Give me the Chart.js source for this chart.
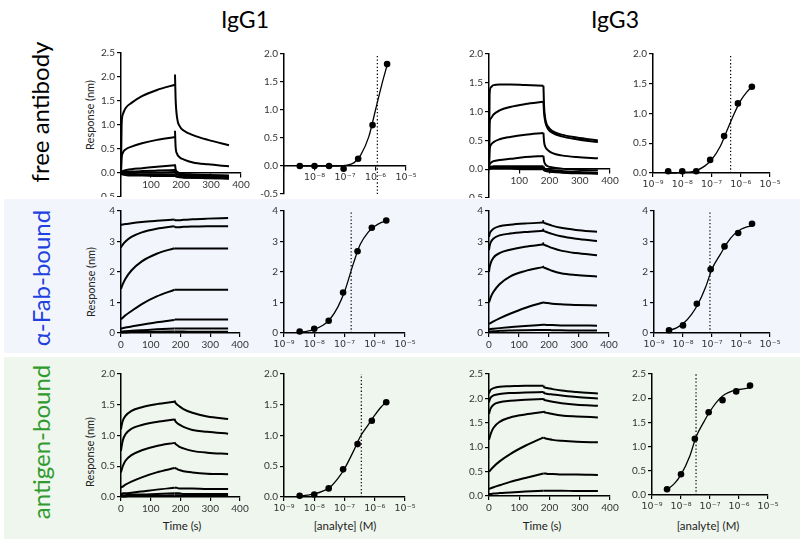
<!DOCTYPE html>
<html>
<head>
<meta charset="utf-8">
<script src="https://cdn.jsdelivr.net/npm/chart.js@4.4.1/dist/chart.umd.min.js"></script>
<style>
  body { margin:0; background:#fff; width:800px; height:543px; position:relative; overflow:hidden; font-family: Lato, "Open Sans", sans-serif; }
  .band { position:absolute; left:4px; right:0; }
  .lbl { position:absolute; white-space:nowrap; transform: translate(-50%,-50%); line-height:1; }
  .rot { transform: translate(-50%,-50%) rotate(-90deg); }
  canvas { position:absolute; }
</style>
</head>
<body>
<div class="band" style="top:199px;height:154px;background:#f2f6fc"></div>
<div class="band" style="top:357px;height:182px;background:#eff6ee"></div>

<div class="lbl" style="left:245px;top:19px;font-size:23px">IgG1</div>
<div class="lbl" style="left:615px;top:19px;font-size:23px">IgG3</div>

<div class="lbl rot" style="left:40px;top:112px;font-size:24px;color:#000">free antibody</div>
<div class="lbl rot" style="left:41px;top:278px;font-size:24px;color:#2040e0">α-Fab-bound</div>
<div class="lbl rot" style="left:41px;top:442px;font-size:24px;color:#2f9b2f">antigen-bound</div>

<div class="lbl rot" style="left:89px;top:115px;font-size:11px;color:#222">Response (nm)</div>
<div class="lbl rot" style="left:90px;top:282px;font-size:11px;color:#222">Response (nm)</div>
<div class="lbl rot" style="left:89px;top:452px;font-size:11px;color:#222">Response (nm)</div>

<div class="lbl" style="left:182px;top:526px;font-size:11.5px;color:#222">Time (s)</div>
<div class="lbl" style="left:542px;top:526px;font-size:11.5px;color:#222">Time (s)</div>
<div class="lbl" style="left:345px;top:526px;font-size:11.5px;color:#222">[analyte] (M)</div>
<div class="lbl" style="left:708px;top:526px;font-size:11.5px;color:#222">[analyte] (M)</div>

<script>
// sensorgram time points (s), association and dissociation phases
const tAssoc = [0, 2, 6, 15, 35, 70, 120, 180];
const tDiss = [180, 182, 187, 195, 210, 240, 290, 360];

// IgG1 free antibody
const igg1FreeAssoc = [
  [0, 1.0, 1.22, 1.35, 1.46, 1.6, 1.73, 1.84],
  [0, 0.3, 0.42, 0.49, 0.55, 0.62, 0.69, 0.75],
  [0, 0.02, 0.04, 0.06, 0.08, 0.1, 0.13, 0.16],
  [0, 0.0, 0.01, 0.02, 0.03, 0.04, 0.05, 0.06],
  [0, -0.01, -0.01, 0, 0, 0.01, 0.01, 0.02],
  [0, -0.02, -0.03, -0.03, -0.03, -0.03, -0.03, -0.03],
  [0, -0.01, -0.02, -0.04, -0.05, -0.05, -0.06, -0.06]
];
const igg1FreeDiss = [
  [2.05, 1.55, 1.15, 0.98, 0.88, 0.79, 0.69, 0.58],
  [0.88, 0.55, 0.4, 0.33, 0.28, 0.22, 0.18, 0.14],
  [0.18, 0.08, 0.03, 0.0, -0.02, -0.03, -0.04, -0.05],
  [0.07, 0.02, -0.01, -0.03, -0.04, -0.05, -0.06, -0.07],
  [0.03, 0.0, -0.03, -0.05, -0.06, -0.07, -0.08, -0.09],
  [-0.03, -0.05, -0.07, -0.08, -0.09, -0.1, -0.1, -0.11],
  [-0.06, -0.07, -0.08, -0.09, -0.1, -0.1, -0.11, -0.12]
];

// IgG3 free antibody
const igg3FreeAssoc = [
  [0, 1.3, 1.42, 1.46, 1.47, 1.47, 1.46, 1.45],
  [0, 0.8, 0.88, 0.95, 1.02, 1.08, 1.13, 1.17],
  [0, 0.33, 0.42, 0.47, 0.52, 0.56, 0.6, 0.63],
  [0, 0.08, 0.11, 0.14, 0.16, 0.18, 0.21, 0.23],
  [0, 0.03, 0.04, 0.05, 0.05, 0.05, 0.05, 0.05],
  [0, 0.02, 0.03, 0.03, 0.03, 0.03, 0.03, 0.03],
  [0, 0.0, 0.01, 0.01, 0.01, 0.01, 0.0, 0.0]
];
const igg3FreeDiss = [
  [1.45, 1.1, 0.85, 0.74, 0.66, 0.6, 0.55, 0.5],
  [1.17, 0.98, 0.8, 0.7, 0.63, 0.57, 0.52, 0.47],
  [0.63, 0.48, 0.38, 0.33, 0.28, 0.24, 0.21, 0.19],
  [0.23, 0.14, 0.08, 0.05, 0.03, 0.01, -0.01, -0.02],
  [0.05, 0.02, 0.0, -0.01, -0.02, -0.03, -0.05, -0.06],
  [0.03, 0.0, -0.02, -0.03, -0.04, -0.05, -0.06, -0.07],
  [0.0, -0.02, -0.03, -0.04, -0.05, -0.06, -0.07, -0.08]
];

// IgG1 alpha-Fab-bound
const igg1FabAssoc = [
  [3.55, 3.55, 3.56, 3.57, 3.6, 3.64, 3.68, 3.72],
  [2.8, 2.84, 2.9, 3.0, 3.15, 3.3, 3.42, 3.5],
  [1.45, 1.5, 1.6, 1.78, 2.05, 2.35, 2.6, 2.78],
  [0.45, 0.47, 0.5, 0.58, 0.72, 0.95, 1.2, 1.42],
  [0.15, 0.15, 0.16, 0.18, 0.21, 0.27, 0.35, 0.43],
  [0.05, 0.05, 0.05, 0.06, 0.07, 0.09, 0.12, 0.15],
  [0.02, 0.02, 0.02, 0.02, 0.03, 0.03, 0.04, 0.05]
];
const igg1FabDiss = [
  [3.72, 3.7, 3.7, 3.7, 3.71, 3.73, 3.75, 3.77],
  [3.5, 3.47, 3.47, 3.47, 3.48, 3.49, 3.5, 3.5],
  [2.78, 2.77, 2.77, 2.77, 2.77, 2.77, 2.77, 2.77],
  [1.42, 1.42, 1.42, 1.42, 1.42, 1.42, 1.42, 1.42],
  [0.43, 0.44, 0.44, 0.44, 0.44, 0.44, 0.44, 0.44],
  [0.15, 0.15, 0.15, 0.15, 0.15, 0.15, 0.15, 0.15],
  [0.05, 0.05, 0.05, 0.05, 0.05, 0.04, 0.04, 0.04]
];

// IgG3 alpha-Fab-bound
const igg3FabAssoc = [
  [3.15, 3.25, 3.33, 3.42, 3.5, 3.55, 3.59, 3.62],
  [2.72, 2.85, 2.98, 3.1, 3.2, 3.26, 3.31, 3.35],
  [2.0, 2.15, 2.3, 2.47, 2.62, 2.73, 2.83, 2.9],
  [1.0, 1.06, 1.18, 1.35, 1.6, 1.85, 2.03, 2.16],
  [0.3, 0.31, 0.33, 0.38, 0.48, 0.63, 0.82, 1.0],
  [0.12, 0.12, 0.13, 0.14, 0.16, 0.19, 0.23, 0.27],
  [0.05, 0.05, 0.05, 0.06, 0.07, 0.08, 0.09, 0.1]
];
const igg3FabDiss = [
  [3.7, 3.62, 3.6, 3.57, 3.52, 3.45, 3.38, 3.32],
  [3.42, 3.35, 3.33, 3.3, 3.25, 3.17, 3.09, 3.02],
  [2.97, 2.9, 2.88, 2.85, 2.79, 2.7, 2.62, 2.55],
  [2.2, 2.15, 2.13, 2.1, 2.04, 1.96, 1.9, 1.85],
  [1.0, 1.0, 0.99, 0.98, 0.96, 0.94, 0.92, 0.9],
  [0.27, 0.27, 0.27, 0.26, 0.26, 0.25, 0.25, 0.24],
  [0.1, 0.1, 0.1, 0.1, 0.09, 0.09, 0.08, 0.08]
];

// IgG1 antigen-bound
const igg1AgAssoc = [
  [1.1, 1.16, 1.24, 1.32, 1.4, 1.46, 1.51, 1.55],
  [0.75, 0.82, 0.92, 1.02, 1.11, 1.17, 1.22, 1.26],
  [0.4, 0.44, 0.5, 0.59, 0.68, 0.76, 0.83, 0.88],
  [0.15, 0.16, 0.17, 0.2, 0.25, 0.32, 0.4, 0.47],
  [0.05, 0.05, 0.06, 0.06, 0.07, 0.09, 0.12, 0.15],
  [0.03, 0.03, 0.03, 0.03, 0.04, 0.04, 0.05, 0.06],
  [0.01, 0.01, 0.01, 0.01, 0.02, 0.02, 0.02, 0.03]
];
const igg1AgDiss = [
  [1.57, 1.54, 1.51, 1.48, 1.43, 1.37, 1.31, 1.27],
  [1.27, 1.24, 1.21, 1.18, 1.14, 1.09, 1.06, 1.03],
  [0.89, 0.87, 0.85, 0.82, 0.79, 0.75, 0.72, 0.7],
  [0.48, 0.47, 0.46, 0.44, 0.42, 0.4, 0.38, 0.37],
  [0.15, 0.15, 0.15, 0.14, 0.14, 0.14, 0.13, 0.13],
  [0.06, 0.06, 0.06, 0.06, 0.05, 0.05, 0.05, 0.05],
  [0.03, 0.03, 0.03, 0.03, 0.03, 0.02, 0.02, 0.02]
];

// IgG3 antigen-bound
const igg3AgAssoc = [
  [2.1, 2.14, 2.18, 2.21, 2.24, 2.25, 2.26, 2.26],
  [1.92, 1.97, 2.02, 2.06, 2.09, 2.11, 2.12, 2.13],
  [1.68, 1.73, 1.8, 1.87, 1.92, 1.95, 1.97, 1.99],
  [1.15, 1.2, 1.28, 1.4, 1.52, 1.61, 1.67, 1.72],
  [0.5, 0.51, 0.54, 0.6, 0.71, 0.86, 1.03, 1.2],
  [0.15, 0.15, 0.16, 0.18, 0.22, 0.29, 0.37, 0.46],
  [0.04, 0.04, 0.04, 0.05, 0.06, 0.07, 0.09, 0.11]
];
const igg3AgDiss = [
  [2.26, 2.23, 2.22, 2.21, 2.19, 2.16, 2.13, 2.1],
  [2.14, 2.11, 2.1, 2.09, 2.08, 2.06, 2.03, 2.0],
  [2.0, 1.97, 1.96, 1.95, 1.93, 1.9, 1.87, 1.85],
  [1.74, 1.72, 1.71, 1.7, 1.68, 1.65, 1.63, 1.61],
  [1.2, 1.19, 1.18, 1.17, 1.15, 1.13, 1.11, 1.1],
  [0.46, 0.46, 0.46, 0.45, 0.45, 0.44, 0.44, 0.43],
  [0.11, 0.11, 0.11, 0.11, 0.11, 0.11, 0.1, 0.1]
];

// steady-state responses (nm) vs analyte concentration (M)
const conc = [3.3e-9, 1e-8, 3e-8, 9e-8, 2.7e-7, 8e-7, 2.4e-6];
const igg1FreeResp = [0, 0, 0, -0.05, 0.13, 0.73, 1.82];
const igg3FreeResp = [0.03, 0.03, 0.03, 0.22, 0.62, 1.17, 1.45];
const igg1FabResp = [0.05, 0.14, 0.40, 1.33, 2.68, 3.45, 3.69];
const igg3FabResp = [0.09, 0.25, 0.96, 2.09, 2.84, 3.28, 3.58];
const igg1AgResp = [0.02, 0.04, 0.14, 0.45, 0.86, 1.24, 1.54];
const igg3AgResp = [0.12, 0.43, 1.16, 1.71, 1.96, 2.14, 2.26];

// fitted curves
const fitConc = [3.3e-9, 6e-9, 1e-8, 2e-8, 3.3e-8, 6e-8, 1e-7, 2e-7, 3.3e-7, 6e-7, 1e-6, 1.6e-6, 2.4e-6];
const igg1FreeFit = [0, 0, 0, 0, 0, 0, 0.01, 0.06, 0.2, 0.52, 1.0, 1.45, 1.8];
const igg3FreeFit = [0, 0, 0.01, 0.02, 0.05, 0.12, 0.22, 0.45, 0.7, 1.0, 1.22, 1.36, 1.45];
const igg1FabFit = [0.02, 0.06, 0.12, 0.26, 0.45, 0.85, 1.35, 2.3, 2.9, 3.3, 3.5, 3.62, 3.68];
const igg3FabFit = [0.08, 0.17, 0.3, 0.62, 0.95, 1.5, 2.1, 2.6, 2.95, 3.25, 3.4, 3.48, 3.52];
const igg1AgFit = [0.015, 0.03, 0.05, 0.1, 0.16, 0.3, 0.46, 0.75, 0.98, 1.17, 1.33, 1.46, 1.54];
const igg3AgFit = [0.11, 0.24, 0.42, 0.8, 1.2, 1.5, 1.73, 1.97, 2.08, 2.15, 2.18, 2.2, 2.21];

// KD markers (dotted lines)
const igg1FreeKD = 1.15e-6, igg3FreeKD = 4.5e-7;
const igg1FabKD = 1.66e-7, igg3FabKD = 8.5e-8;
const igg1AgKD = 3.6e-7, igg3AgKD = 3.3e-8;

const logTicks = [1e-9, 1e-8, 1e-7, 1e-6, 1e-5];
const logLabels = ['10⁻⁹', '10⁻⁸', '10⁻⁷', '10⁻⁶', '10⁻⁵'];

// canvas margins around plot area
const ML = 36, MR = 18, MT = 8, MB = 22;
const tickFont = { family: 'Lato', size: 10 };
const logFont = { family: '"DejaVu Sans", Lato', size: 9.5 };

function addCanvas(r) {
  const c = document.createElement('canvas');
  c.width = r[2] - r[0] + ML + MR;
  c.height = r[3] - r[1] + MT + MB;
  c.style.left = (r[0] - ML) + 'px';
  c.style.top = (r[1] - MT) + 'px';
  document.body.appendChild(c);
  return c;
}

function yAxis(min, max, step, dec) {
  return {
    type: 'linear', min: min, max: max,
    grid: { drawOnChartArea: false, tickLength: 4, color: '#000', lineWidth: 1.2 },
    border: { color: '#000', width: 1.5 },
    ticks: { stepSize: step, color: '#333', font: tickFont, padding: 2, callback: v => v.toFixed(dec) },
    afterFit: s => { s.width = ML; s.paddingTop = 0; s.paddingBottom = 0; }
  };
}

function xAxis(type, atZero) {
  const log = type === 'log';
  return {
    type: log ? 'logarithmic' : 'linear',
    min: log ? 1e-9 : 0, max: log ? 1e-5 : 400,
    position: atZero ? { y: 0 } : 'bottom',
    grid: { drawOnChartArea: false, tickLength: 4, color: '#000', lineWidth: 1.2 },
    border: { color: '#000', width: 1.5 },
    afterBuildTicks: log ? (s => { s.ticks = logTicks.map(v => ({ value: v })); }) : undefined,
    ticks: {
      stepSize: 100, autoSkip: false, maxRotation: 0, color: '#333',
      font: log ? logFont : tickFont, padding: 2,
      callback: (v, i) => {
        if (atZero && i === 0) return '';
        return log ? logLabels[i] : String(v);
      }
    },
    afterFit: s => { s.height = MB; s.paddingLeft = 0; s.paddingRight = 0; }
  };
}

function lineSet(xs, ys, w, dash) {
  return {
    data: xs.map((x, i) => ({ x: x, y: ys[i] })),
    showLine: true, borderColor: '#000', borderWidth: w, borderDash: dash || [],
    pointRadius: 0, cubicInterpolationMode: 'monotone', clip: false
  };
}

function makeChart(r, datasets, x, y) {
  new Chart(addCanvas(r), {
    type: 'scatter',
    data: { datasets: datasets },
    options: {
      responsive: false, animation: false, events: [],
      layout: { padding: { left: 0, top: MT, right: MR, bottom: 0 } },
      plugins: { legend: { display: false }, tooltip: { enabled: false } },
      scales: { x: x, y: y }
    }
  });
}

function sensorgram(r, assoc, diss, yMin, yMax, step, dec, atZero) {
  const sets = [];
  assoc.forEach(a => sets.push(lineSet(tAssoc, a, 2)));
  diss.forEach(d => sets.push(lineSet(tDiss, d, 2)));
  makeChart(r, sets, xAxis('lin', atZero), yAxis(yMin, yMax, step, dec));
}

function doseCurve(r, resp, fit, kd, yMin, yMax, step, dec, atZero) {
  const sets = [
    lineSet([kd, kd], [yMin, yMax], 1.2, [1.3, 2.2]),
    lineSet(fitConc, fit, 1.3),
    {
      data: conc.map((c, i) => ({ x: c, y: resp[i] })),
      pointRadius: 3.3, pointBackgroundColor: '#000', pointBorderWidth: 0, clip: false
    }
  ];
  makeChart(r, sets, xAxis('log', atZero), yAxis(yMin, yMax, step, dec));
}

// row 1: free antibody
sensorgram([121, 53, 241, 175], igg1FreeAssoc, igg1FreeDiss, -0.5, 2.5, 0.5, 1, true);
doseCurve([284, 54, 406, 176], igg1FreeResp, igg1FreeFit, igg1FreeKD, -0.5, 2.0, 0.5, 1, true);
sensorgram([489, 54, 610, 176], igg3FreeAssoc, igg3FreeDiss, -0.5, 2.0, 0.5, 1, true);
doseCurve([653, 54, 770, 173], igg3FreeResp, igg3FreeFit, igg3FreeKD, 0, 2.0, 0.5, 1, false);

// row 2: alpha-Fab-bound
sensorgram([121, 211, 240, 333], igg1FabAssoc, igg1FabDiss, 0, 4, 1, 0, false);
doseCurve([284, 211, 405, 333], igg1FabResp, igg1FabFit, igg1FabKD, 0, 4, 1, 0, false);
sensorgram([489, 211, 609, 333], igg3FabAssoc, igg3FabDiss, 0, 4, 1, 0, false);
doseCurve([654, 211, 770, 333], igg3FabResp, igg3FabFit, igg3FabKD, 0, 4, 1, 0, false);

// row 3: antigen-bound
sensorgram([121, 374, 240, 497], igg1AgAssoc, igg1AgDiss, 0, 2.0, 0.5, 1, false);
doseCurve([284, 374, 405, 497], igg1AgResp, igg1AgFit, igg1AgKD, 0, 2.0, 0.5, 1, false);
sensorgram([489, 374, 610, 496], igg3AgAssoc, igg3AgDiss, 0, 2.5, 0.5, 1, false);
doseCurve([652, 374, 768, 495], igg3AgResp, igg3AgFit, igg3AgKD, 0, 2.5, 0.5, 1, false);
</script>
</body>
</html>
